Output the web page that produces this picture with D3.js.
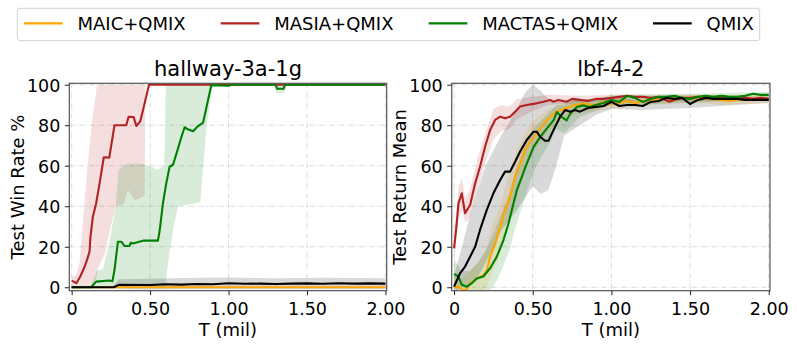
<!DOCTYPE html>
<html><head><meta charset="utf-8">
<script src="https://cdn.jsdelivr.net/npm/d3@7"></script>
<style>body{margin:0;background:#fff}svg{display:block;font-family:"DejaVu Sans",sans-serif}</style>
</head><body><svg id="c" width="797" height="349"></svg>
<script>
// ---- data ----
const seriesNames = ["MAIC+QMIX","MASIA+QMIX","MACTAS+QMIX","QMIX"];
const seriesColors = ["#FFA500","#B22222","#008000","#000000"];
const xTicks = [0,0.5,1,1.5,2];
const xTickLabels = ["0","0.50","1.00","1.50","2.00"];
const yTicks = [0,20,40,60,80,100];
const titles = ["hallway-3a-1g","lbf-4-2"];
const yLabels = ["Test Win Rate %","Test Return Mean"];
const xLabel = "T (mil)";

// hallway-3a-1g  [t, mean]  and bands [t, lo, hi]
const hallMaic = [[0,0],[2,0]];
const hallMaicBand = [[0,-0.4,0.4],[0.27,-0.5,0.8],[2,-0.5,0.8]];
const hallMasia = [[0,3.3],[0.03,2],[0.054,5.2],[0.082,10],[0.1,14],[0.114,17.6],[0.12,25],[0.135,34.8],[0.156,41.4],[0.178,51.3],[0.205,64.2],[0.24,64],[0.273,80],[0.348,80],[0.363,84.2],[0.395,84],[0.412,79.6],[0.437,81.9],[0.455,87.5],[0.493,100],[2,100]];
const hallMasiaBand = [[0,0,5],[0.03,0,6],[0.05,0,12],[0.08,0,40],[0.1,0,58],[0.13,0,82],[0.16,5,99],[0.17,10,100],[0.21,16,100],[0.25,30,100],[0.28,40,100],[0.33,41,100],[0.36,48,100],[0.4,43,100],[0.465,45,100],[0.47,100,100],[2,100,100]];
const hallMactas = [[0,0],[0.124,0],[0.156,2.8],[0.24,3.3],[0.26,3],[0.273,8.5],[0.295,22.5],[0.316,22.5],[0.337,20.4],[0.369,20.4],[0.377,22],[0.39,21.6],[0.455,23],[0.55,23],[0.561,28],[0.582,41.5],[0.603,51.3],[0.624,59.5],[0.646,60.5],[0.668,66],[0.7,74.3],[0.72,79],[0.74,78],[0.774,77],[0.806,79.6],[0.838,81.3],[0.89,99.8],[1,99.5],[1.02,100],[1.3,100],[1.31,98],[1.35,98],[1.36,100],[2,100]];
const hallMactasBand = [[0,0,0],[0.12,0,0],[0.16,0,8],[0.2,0,9],[0.24,0,22],[0.28,0,40],[0.3,0,58],[0.35,0,61],[0.45,0,61],[0.55,0,58],[0.59,0,60],[0.6,3,100],[0.62,15,100],[0.65,30,100],[0.68,40,100],[0.82,42,100],[0.86,80,100],[0.9,100,100],[1.29,100,100],[1.3,96,100],[1.36,96,100],[1.37,100,100],[2,100,100]];
const hallQmix = [[0,0],[0.27,0],[0.3,1.2],[0.5,1.1],[0.6,1.5],[0.7,1.3],[0.8,1.6],[0.9,1.5],[1,2],[1.1,1.7],[1.2,1.8],[1.3,1.6],[1.4,1.8],[1.5,1.9],[1.6,1.7],[1.7,2],[1.8,1.8],[1.9,1.9],[2,1.8]];
const hallQmixBand = [[0,0,0],[0.26,0,0.5],[0.3,-1,4],[0.5,-1.2,4.2],[0.7,-1,4.6],[1,-1,4.8],[1.3,-1,4.4],[1.6,-1,4.7],[2,-1,4.5]];

// lbf-4-2
const lbfMaic = [[0,0],[0.028,0.3],[0.059,-1.5],[0.08,-1],[0.102,1.9],[0.144,4.3],[0.186,5.9],[0.208,8.4],[0.229,15],[0.261,21.5],[0.293,29.8],[0.324,38],[0.356,44.6],[0.388,54.5],[0.42,61],[0.45,67.6],[0.483,71.7],[0.515,75],[0.547,78.3],[0.589,82.4],[0.632,85.7],[0.674,87.4],[0.72,88.5],[0.759,89.8],[0.82,90.6],[0.9,90],[0.95,91.5],[1,90.5],[1.05,91],[1.1,92],[1.15,91],[1.2,92],[1.25,92.5],[1.3,93],[1.35,92.5],[1.4,93],[1.45,93.5],[1.5,93.5],[1.55,93],[1.6,93.5],[1.65,93],[1.7,92.5],[1.75,92],[1.8,92.5],[1.85,93],[1.9,93],[1.95,93],[2,93]];
const lbfMaicBand = [[0,-5,6],[0.05,-6,4],[0.1,-4,8],[0.15,-2,12],[0.2,-1,18],[0.25,8,32],[0.3,18,42],[0.35,30,56],[0.4,45,68],[0.45,58,76],[0.5,66,82],[0.55,72,85],[0.6,77,88],[0.7,83,91],[0.8,86,93],[0.9,87,92],[1,88,93],[1.2,89.5,94],[1.5,91.5,95],[1.7,90,95],[2,91,95]];
const lbfMasia = [[0,19.2],[0.015,30],[0.028,41.4],[0.049,46.4],[0.07,36.5],[0.102,40.6],[0.134,51.3],[0.165,59.5],[0.197,69.4],[0.229,77.6],[0.261,82.6],[0.293,84.2],[0.324,83.4],[0.356,84.2],[0.388,86.7],[0.42,89.2],[0.462,90],[0.525,90.8],[0.568,91.6],[0.61,92.5],[0.631,91.6],[0.663,92.5],[0.716,91.6],[0.75,93],[0.8,92.5],[0.85,92],[0.9,93],[0.95,93],[1,93.5],[1.05,94],[1.1,94.5],[1.15,94],[1.2,94],[1.25,93.5],[1.3,94],[1.37,91.6],[1.4,92.5],[1.45,93.5],[1.5,93.5],[1.55,94],[1.6,94],[1.65,93.5],[1.7,94],[1.75,93.5],[1.8,93],[1.85,93.5],[1.9,93],[1.95,93.5],[2,93]];
const lbfMasiaBand = [[0,14,26],[0.03,34,50],[0.05,38,54],[0.07,32,44],[0.1,34,48],[0.15,48,64],[0.2,62,76],[0.25,73,88],[0.3,77,90],[0.35,78,89],[0.4,83,93],[0.5,87,94],[0.6,90,95],[0.8,91,94.5],[1,92,95],[1.5,92,95],[2,92,94.5]];
const lbfMactas = [[0,6.6],[0.028,5.3],[0.049,1.2],[0.081,0.3],[0.113,2],[0.144,4.3],[0.186,5.3],[0.229,9.4],[0.271,15],[0.314,23.3],[0.346,31.5],[0.367,38.1],[0.399,47.9],[0.431,54.5],[0.462,61],[0.505,69.2],[0.547,74.1],[0.589,78.3],[0.632,82.4],[0.653,86.5],[0.685,84],[0.716,82.4],[0.738,85.7],[0.78,89],[0.82,89.8],[0.86,89],[0.9,90],[0.95,91],[1,92.5],[1.05,91.5],[1.1,94.5],[1.15,93.5],[1.2,91.5],[1.25,93],[1.3,94],[1.35,94],[1.4,94.5],[1.45,93.5],[1.5,93],[1.55,94],[1.6,94.5],[1.65,94],[1.7,94.5],[1.75,94],[1.8,94],[1.85,94.5],[1.9,95.5],[1.95,95],[2,95]];
const lbfMactasBand = [[0,0,14],[0.05,-4,8],[0.1,-6,8],[0.15,-5,12],[0.2,-3,18],[0.25,0,26],[0.3,8,36],[0.35,18,46],[0.4,32,60],[0.45,44,70],[0.5,56,78],[0.55,64,82],[0.6,70,86],[0.65,78,90],[0.7,76,90],[0.75,80,92],[0.8,84,93],[0.9,87,93],[1,90,95],[1.5,91,95.5],[2,93,96.5]];
const lbfQmix = [[0,0.3],[0.038,6.9],[0.07,10.2],[0.102,15.1],[0.134,20],[0.165,28.3],[0.208,38.2],[0.25,46.4],[0.293,53],[0.324,57.1],[0.356,57.1],[0.388,62],[0.42,67],[0.462,72.7],[0.505,76.8],[0.526,76.8],[0.547,74.3],[0.579,72.3],[0.6,72.3],[0.632,77.6],[0.674,84.2],[0.706,87.5],[0.738,86.7],[0.77,87.5],[0.8,86.7],[0.85,88.5],[0.9,89],[0.95,89.5],[1,91.5],[1.05,89.5],[1.1,90],[1.15,90],[1.2,89.5],[1.25,91.5],[1.3,92],[1.35,93.5],[1.4,93],[1.45,93.5],[1.5,90.5],[1.55,92.5],[1.6,93.5],[1.65,93],[1.7,93],[1.75,93],[1.8,93],[1.85,92.5],[1.9,92.5],[1.95,92.5],[2,92.5]];
const lbfQmixBand = [[0,-3,6],[0.05,0,20],[0.1,2,35],[0.15,5,48],[0.2,12,60],[0.3,28,75],[0.4,38,88],[0.45,44,96],[0.5,50,100],[0.55,46,97],[0.6,48,93],[0.65,60,92],[0.7,75,92],[0.8,80,93],[0.9,85,93],[1,88,94],[1.2,87.5,92],[1.5,88.5,93],[2,91,94]];

const panels = [
  {means:[hallMaic,hallMasia,hallMactas,hallQmix], bands:[hallMaicBand,hallMasiaBand,hallMactasBand,hallQmixBand], left:69.3, right:386.7},
  {means:[lbfMaic,lbfMasia,lbfMactas,lbfQmix], bands:[lbfMaicBand,lbfMasiaBand,lbfMactasBand,lbfQmixBand], left:451.7, right:770}
];
const yLabelX = [24, 406];

// ---- drawing ----
const svg = d3.select("#c");
const plotTop = 83.3, plotBottom = 290.7;
const defs = svg.append("defs");

panels.forEach((p, i) => {
  const x = d3.scaleLinear().domain([-0.015, 2.008]).range([p.left, p.right]);
  const y = d3.scaleLinear().domain([-1.7, 100.7]).range([plotBottom, plotTop]);
  const g = svg.append("g");
  const clipId = "clip" + i;
  defs.append("clipPath").attr("id", clipId).append("rect")
    .attr("x", p.left).attr("y", plotTop).attr("width", p.right - p.left).attr("height", plotBottom - plotTop);

  // grid
  const grid = g.append("g").attr("stroke", "#c8c8c8").attr("stroke-width", 0.8).attr("stroke-dasharray", "5,2,1,2").attr("opacity", 0.8);
  xTicks.forEach(t => grid.append("line").attr("x1", x(t)).attr("x2", x(t)).attr("y1", plotTop).attr("y2", plotBottom));
  yTicks.forEach(t => grid.append("line").attr("x1", p.left).attr("x2", p.right).attr("y1", y(t)).attr("y2", y(t)));

  const data = g.append("g").attr("clip-path", `url(#${clipId})`);
  const area = d3.area().x(d => x(d[0])).y0(d => y(d[1])).y1(d => y(d[2]));
  const line = d3.line().x(d => x(d[0])).y(d => y(d[1]));
  p.bands.forEach((b, k) => {
    data.append("path").attr("d", area(b)).attr("fill", seriesColors[k]).attr("fill-opacity", 0.15).attr("stroke", "none");
  });
  p.means.forEach((m, k) => {
    data.append("path").attr("d", line(m)).attr("fill", "none").attr("stroke", seriesColors[k])
      .attr("stroke-width", 2.1).attr("stroke-linejoin", "round");
  });

  // frame
  g.append("rect").attr("x", p.left).attr("y", plotTop).attr("width", p.right - p.left).attr("height", plotBottom - plotTop)
    .attr("fill", "none").attr("stroke", "#555").attr("stroke-width", 1.2);

  // axes
  const xAxis = d3.axisBottom(x).tickValues(xTicks).tickFormat((d, j) => xTickLabels[j]).tickSize(4.5).tickPadding(4);
  const ax = g.append("g").attr("transform", `translate(0,${plotBottom})`).call(xAxis);
  ax.select(".domain").remove();
  ax.selectAll("text").attr("font-size", 17.5).attr("font-family", "DejaVu Sans").attr("fill", "#000").attr("dy", null).attr("y", 24.8);
  ax.selectAll("line").attr("stroke", "#222");
  const yAxis = d3.axisLeft(y).tickValues(yTicks).tickSize(4.5).tickPadding(4.5);
  const ay = g.append("g").attr("transform", `translate(${p.left},0)`).call(yAxis);
  ay.select(".domain").remove();
  ay.selectAll("text").attr("font-size", 17.5).attr("font-family", "DejaVu Sans").attr("fill", "#000").attr("dy", "0.36em");
  ay.selectAll("line").attr("stroke", "#222");

  const cx = (p.left + p.right) / 2;
  svg.append("text").attr("x", cx).attr("y", 76).attr("text-anchor", "middle").attr("font-size", 21).text(titles[i]);
  svg.append("text").attr("x", cx).attr("y", 336.4).attr("text-anchor", "middle").attr("font-size", 18).text(xLabel);
  svg.append("text").attr("transform", `translate(${yLabelX[i]},${(plotTop + plotBottom) / 2}) rotate(-90)`)
    .attr("text-anchor", "middle").attr("font-size", 18).text(yLabels[i]);
});

// legend
const lg = svg.append("g");
lg.append("rect").attr("x", 17.3).attr("y", 8.3).attr("width", 742.4).attr("height", 32.4).attr("rx", 3)
  .attr("fill", "#fff").attr("stroke", "#d0d0d0").attr("stroke-width", 1);
const legX = [24, 220.7, 428.7, 653];
seriesNames.forEach((n, k) => {
  lg.append("line").attr("x1", legX[k]).attr("x2", legX[k] + 38.7).attr("y1", 23.3).attr("y2", 23.3)
    .attr("stroke", seriesColors[k]).attr("stroke-width", 2.2);
  lg.append("text").attr("x", legX[k] + 53.5).attr("y", 29.8).attr("font-size", 18).text(n);
});
</script></body></html>
